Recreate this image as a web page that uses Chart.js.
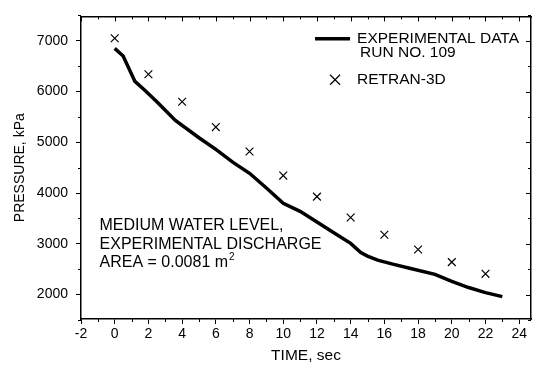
<!DOCTYPE html>
<html>
<head>
<meta charset="utf-8">
<script src="https://cdn.jsdelivr.net/npm/chart.js@4"></script>
<style>
  html, body { margin: 0; padding: 0; background: #fff; }
  #wrap { width: 544px; height: 365px; }
</style>
</head>
<body>
<div id="wrap"><canvas id="grafico"></canvas></div>
<script>
// dados
const tempoExp = [0, 0.5, 1.2, 1.8, 2.5, 3.6, 5, 6, 7, 8, 9, 10, 11, 12, 13, 14, 14.6, 15, 15.6, 16.5, 17.5, 19, 20, 21, 22, 23];
const pressaoExp = [6850, 6700, 6200, 6020, 5800, 5430, 5090, 4860, 4610, 4390, 4100, 3800, 3640, 3430, 3220, 3010, 2830, 2760, 2680, 2600, 2520, 2400, 2260, 2140, 2040, 1960];
const tempoRetran = [0, 2, 4, 6, 8, 10, 12, 14, 16, 18, 20, 22];
const pressaoRetran = [7050, 6340, 5800, 5300, 4820, 4345, 3930, 3520, 3180, 2890, 2640, 2410];
const xTicks = [-2, 0, 2, 4, 6, 8, 10, 12, 14, 16, 18, 20, 22, 24];
const yTicks = [2000, 3000, 4000, 5000, 6000, 7000];
const legendaExp = ["EXPERIMENTAL DATA", "RUN NO. 109"];
const legendaRetran = ["RETRAN-3D"];
const notaLinhas = ["MEDIUM WATER LEVEL,", "EXPERIMENTAL DISCHARGE", "AREA = 0.0081 m"];

const FONTE = "'Liberation Sans', Arial, sans-serif";

// ticks menores e ticks para dentro (topo e direita)
const ticksPlugin = {
  id: "ticksExtras",
  afterDraw(chart) {
    const ctx = chart.ctx;
    const a = chart.chartArea;
    const x = chart.scales.x;
    const y = chart.scales.y;
    ctx.save();
    ctx.strokeStyle = "#000";
    ctx.lineWidth = 1;
    ctx.beginPath();
    for (let v = -2; v <= 24; v += 1) {
      const px = Math.round(x.getPixelForValue(v)) + 0.5;
      const major = v % 2 === 0;
      // topo, para dentro
      ctx.moveTo(px, a.top);
      ctx.lineTo(px, a.top + (major ? 5 : 3));
      if (!major) {
        ctx.moveTo(px, a.bottom);
        ctx.lineTo(px, a.bottom + 3);
      }
    }
    for (let v = 1500; v <= 7500; v += 500) {
      const py = Math.round(y.getPixelForValue(v)) + 0.5;
      const major = v % 1000 === 0;
      ctx.moveTo(a.right, py);
      ctx.lineTo(a.right - (major ? 5 : 3), py);
      if (!major) {
        ctx.moveTo(a.left, py);
        ctx.lineTo(a.left - 3, py);
      }
    }
    ctx.stroke();
    ctx.restore();
  },
};

// legenda e nota de texto dentro da área do gráfico
const textoPlugin = {
  id: "textoExtras",
  afterDraw(chart) {
    const ctx = chart.ctx;
    const x = chart.scales.x;
    const y = chart.scales.y;
    ctx.save();
    ctx.fillStyle = "#000";
    ctx.textBaseline = "middle";
    ctx.textAlign = "left";
    ctx.font = "15.5px " + FONTE;

    // legenda
    const lx = x.getPixelForValue(14.38);
    const ly = y.getPixelForValue(7040);
    ctx.strokeStyle = "#000";
    ctx.lineWidth = 3.5;
    ctx.beginPath();
    ctx.moveTo(lx - 42, ly);
    ctx.lineTo(lx - 7, ly);
    ctx.stroke();
    ctx.fillText(legendaExp[0], lx, ly);
    ctx.fillText(legendaExp[1], lx + 3, ly + 14);
    const ry = ly + 41;
    ctx.lineWidth = 1.2;
    ctx.beginPath();
    ctx.moveTo(lx - 27, ry - 5);
    ctx.lineTo(lx - 17, ry + 5);
    ctx.moveTo(lx - 27, ry + 5);
    ctx.lineTo(lx - 17, ry - 5);
    ctx.stroke();
    ctx.fillText(legendaRetran[0], lx, ry);

    // nota
    ctx.font = "16px " + FONTE;
    const nx = x.getPixelForValue(-0.9);
    let ny = y.getPixelForValue(3350);
    notaLinhas.forEach((linha, i) => {
      ctx.fillText(linha, nx, ny + i * 18.5);
    });
    const w = ctx.measureText(notaLinhas[2]).width;
    ctx.font = "10px " + FONTE;
    ctx.fillText("2", nx + w + 1, ny + 2 * 18.5 - 6);
    ctx.restore();
  },
};

new Chart(document.getElementById("grafico"), {
  type: "scatter",
  data: {
    datasets: [
      {
        label: legendaExp.join(" "),
        data: tempoExp.map((t, i) => ({ x: t, y: pressaoExp[i] })),
        showLine: true,
        borderColor: "#000",
        borderWidth: 3.5,
        pointRadius: 0,
        tension: 0,
        order: 2,
      },
      {
        label: legendaRetran[0],
        data: tempoRetran.map((t, i) => ({ x: t, y: pressaoRetran[i] })),
        showLine: false,
        pointStyle: "crossRot",
        pointRadius: 5.5,
        borderColor: "#000",
        borderWidth: 1.2,
        order: 1,
      },
    ],
  },
  options: {
    responsive: true,
    maintainAspectRatio: false,
    animation: false,
    layout: { padding: { top: 8, right: 5, left: 0, bottom: 0 } },
    plugins: {
      legend: { display: false },
      tooltip: { enabled: false },
    },
    scales: {
      x: {
        type: "linear",
        min: -2,
        max: 24.7,
        afterBuildTicks: (s) => { s.ticks = xTicks.map((v) => ({ value: v })); },
        afterFit: (s) => { s.height = 46; },
        border: { display: true, color: "#000", width: 1.5 },
        grid: { drawOnChartArea: false, drawTicks: true, tickLength: 5, color: "#000", tickColor: "#000" },
        ticks: { color: "#000", font: { family: FONTE, size: 14 }, padding: 2, maxRotation: 0, callback: (v) => String(v) },
        title: { display: true, text: "TIME, sec", color: "#000", font: { family: FONTE, size: 15.5 }, padding: { top: 0, bottom: 0 } },
      },
      y: {
        type: "linear",
        min: 1520,
        max: 7480,
        afterBuildTicks: (s) => { s.ticks = yTicks.map((v) => ({ value: v })); },
        afterFit: (s) => { s.width = 81; },
        border: { display: true, color: "#000", width: 1.5 },
        grid: { drawOnChartArea: false, drawTicks: true, tickLength: 5, color: "#000", tickColor: "#000" },
        ticks: { color: "#000", font: { family: FONTE, size: 14 }, padding: 8, callback: (v) => String(v) },
        title: { display: true, text: "PRESSURE, kPa", color: "#000", font: { family: FONTE, size: 14 }, padding: { top: 12, bottom: 0 } },
      },
      x2: {
        type: "linear",
        position: "top",
        min: -2,
        max: 24.7,
        display: true,
        border: { display: true, color: "#000", width: 1.5 },
        grid: { display: false },
        ticks: { display: false },
      },
      y2: {
        type: "linear",
        position: "right",
        min: 1520,
        max: 7480,
        display: true,
        border: { display: true, color: "#000", width: 1.5 },
        grid: { display: false },
        ticks: { display: false },
      },
    },
  },
  plugins: [ticksPlugin, textoPlugin],
});
</script>
</body>
</html>
